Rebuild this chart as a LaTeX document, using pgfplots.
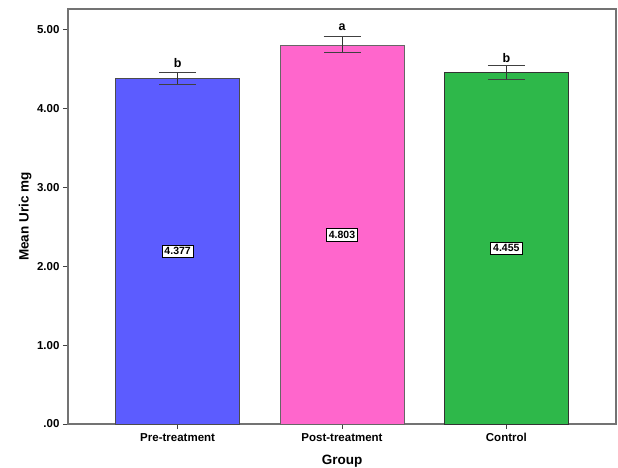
\documentclass[border=0pt]{standalone}
\usepackage{fontspec}
\setmainfont{Liberation Sans}
\usepackage{pgfplots}
\pgfplotsset{compat=1.18}
\definecolor{barblue}{RGB}{92,92,255}
\definecolor{barpink}{RGB}{255,102,204}
\definecolor{bargreen}{RGB}{46,184,74}
\begin{document}
\begin{tikzpicture}
\useasboundingbox (-68bp,-44bp) rectangle (550bp,424bp);
\begin{axis}[
  scale only axis, width=548bp, height=415bp,
  xmin=-0.667, xmax=2.667, ymin=0, ymax=5.26,
  axis line style={draw=black!55, line width=1.2bp},
  xtick={0,1,2}, xticklabels={Pre-treatment,Post-treatment,Control},
  ytick={0,1,2,3,4,5}, yticklabels={.00,1.00,2.00,3.00,4.00,5.00},
  tick align=outside, tick pos=left, major tick length=5bp,
  tick style={draw=black!75, line width=0.9bp},
  ticklabel style={font=\fontsize{11.5bp}{13bp}\selectfont\bfseries},
  xticklabel style={yshift=-1bp},
  xlabel={Group}, ylabel={Mean Uric mg},
  label style={font=\fontsize{13.5bp}{16bp}\selectfont\bfseries},
  xlabel style={at={(axis description cs:0.5,-0.089)}, anchor=center},
  ylabel style={at={(axis description cs:-0.078,0.5)}, anchor=center},
  clip=false,
]
\addplot[ybar, bar width=0.755, fill=barblue, draw=black!70, line width=0.8bp] coordinates {(0,4.377)};
\addplot[ybar, bar width=0.755, fill=barpink, draw=black!60, line width=0.8bp] coordinates {(1,4.803)};
\addplot[ybar, bar width=0.755, fill=bargreen, draw=black!80, line width=0.8bp] coordinates {(2,4.455)};
% error bars
\addplot[draw=none, mark=none,
  error bars/.cd, y dir=both, y explicit,
  error bar style={draw=black!80, line width=0.9bp},
  error mark options={rotate=90, mark size=18.5bp, line width=0.9bp, draw=black!75}]
  coordinates {(0,4.381) +- (0,0.076) (1,4.808) +- (0,0.102) (2,4.46) +- (0,0.09)};
% significance letters
\addplot[draw=none, mark=none, nodes near coords, point meta=explicit symbolic,
  nodes near coords style={anchor=center, font=\fontsize{12.5bp}{14bp}\selectfont\bfseries}]
  coordinates {(0,4.58) [b] (1,5.03) [a] (2,4.64) [b]};
% value labels
\addplot[draw=none, mark=none, nodes near coords, point meta=explicit symbolic,
  nodes near coords style={anchor=center, fill=white, draw=black, line width=0.7bp,
    inner sep=2.5bp, font=\fontsize{10.5bp}{11bp}\selectfont\bfseries}]
  coordinates {(0,2.19) [4.377] (1,2.40) [4.803] (2,2.23) [4.455]};
\end{axis}
\end{tikzpicture}
\end{document}
